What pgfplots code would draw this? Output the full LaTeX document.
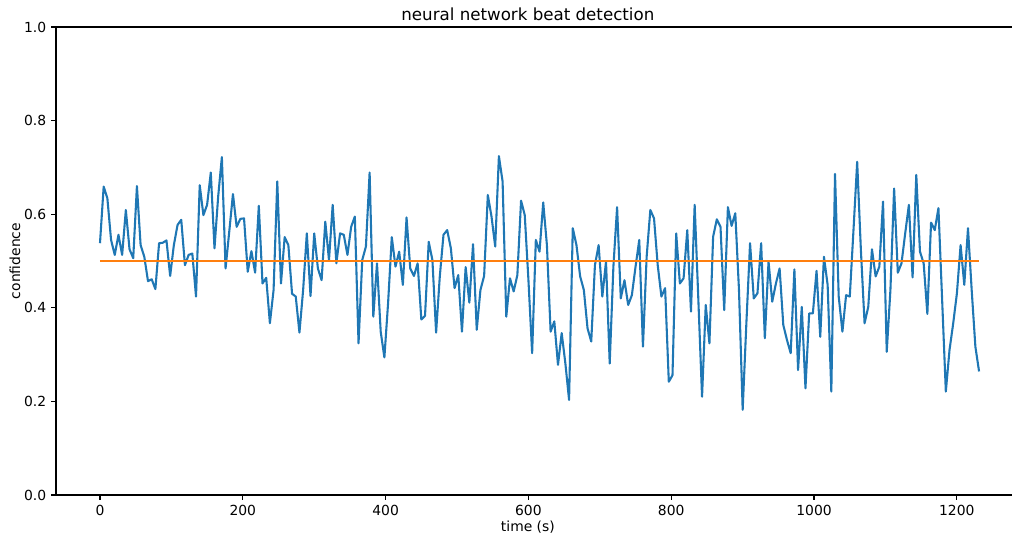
\documentclass[border=0pt]{standalone}
\usepackage{fontspec}
\setmainfont{DejaVu Sans}
\usepackage{pgfplots}
\usepackage{pgfplotstable}
\pgfplotsset{compat=1.18}
\definecolor{mplblue}{HTML}{1F77B4}
\definecolor{mplorange}{HTML}{FF7F0E}

% network confidence per analysis window (one row per window)
\pgfplotstableread{
c
0.538
0.659
0.634
0.545
0.513
0.556
0.513
0.609
0.525
0.506
0.660
0.534
0.509
0.457
0.461
0.440
0.538
0.539
0.544
0.468
0.534
0.577
0.588
0.491
0.513
0.516
0.424
0.662
0.598
0.620
0.689
0.527
0.638
0.722
0.484
0.563
0.643
0.573
0.590
0.591
0.477
0.521
0.475
0.618
0.452
0.464
0.367
0.438
0.670
0.452
0.551
0.534
0.430
0.424
0.347
0.438
0.559
0.425
0.559
0.484
0.459
0.584
0.502
0.620
0.495
0.559
0.556
0.513
0.573
0.595
0.324
0.502
0.531
0.689
0.381
0.495
0.349
0.294
0.410
0.551
0.488
0.520
0.449
0.593
0.484
0.468
0.495
0.375
0.383
0.541
0.502
0.347
0.467
0.556
0.566
0.527
0.442
0.470
0.349
0.487
0.411
0.536
0.353
0.438
0.468
0.641
0.595
0.531
0.724
0.670
0.381
0.463
0.435
0.470
0.629
0.598
0.459
0.303
0.545
0.520
0.625
0.534
0.349
0.371
0.278
0.346
0.281
0.203
0.570
0.534
0.467
0.438
0.356
0.328
0.491
0.534
0.424
0.499
0.281
0.488
0.615
0.420
0.459
0.406
0.427
0.488
0.545
0.317
0.509
0.609
0.591
0.491
0.424
0.442
0.242
0.256
0.559
0.452
0.463
0.566
0.392
0.620
0.417
0.210
0.406
0.324
0.552
0.589
0.573
0.395
0.615
0.575
0.602
0.438
0.182
0.367
0.538
0.420
0.431
0.538
0.335
0.499
0.413
0.452
0.484
0.363
0.331
0.303
0.482
0.267
0.402
0.228
0.388
0.388
0.479
0.338
0.509
0.449
0.221
0.686
0.424
0.349
0.427
0.424
0.566
0.712
0.524
0.367
0.402
0.525
0.467
0.488
0.627
0.306
0.438
0.655
0.475
0.495
0.559
0.620
0.465
0.684
0.520
0.495
0.387
0.582
0.566
0.613
0.417
0.221
0.310
0.367
0.431
0.534
0.449
0.570
0.438
0.317
0.264
}\confdata

\begin{document}
\begin{tikzpicture}
\begin{axis}[
  at={(0,0)}, anchor=south west,
  scale only axis, width=696.24pt, height=336.96pt,
  xmin=-61.6, xmax=1292.7, ymin=0, ymax=1,
  xtick={0,200,400,600,800,1000,1200},
  ytick={0,0.2,0.4,0.6,0.8,1},
  xticklabel style={/pgf/number format/.cd, 1000 sep={}},
  yticklabel style={/pgf/number format/.cd, fixed, fixed zerofill, precision=1},
  /pgf/number format/assume math mode=true,
  tick align=outside, xtick pos=bottom, ytick pos=left,
  major tick length=3.5pt,
  tick style={black, line width=0.8pt},
  axis line style={line width=0.8pt},
  font=\fontsize{10}{12}\selectfont,
  every axis title shift=0pt,
  title={neural network beat detection},
  title style={font=\fontsize{12}{14}\selectfont, at={(axis description cs:0.488,1)}, anchor=center, yshift=9.4pt},
  xlabel={time (s)},
  xlabel style={at={(axis description cs:0.488,0)}, anchor=center, yshift=-23.5pt},
  ylabel={confidence},
  ylabel style={at={(axis description cs:-0.0424,0.5)}, anchor=center},
]
\addplot[mplblue, line width=1.5pt, line join=round] table[x expr=\coordindex*5.173, y=c] {\confdata};
\addplot[mplorange, line width=1.5pt] coordinates {(0,0.5) (1231,0.5)};
\end{axis}
\pgfresetboundingbox
\useasboundingbox (-40.32pt,-30.96pt) rectangle (688.32pt,356.4pt);
\end{tikzpicture}
\end{document}
